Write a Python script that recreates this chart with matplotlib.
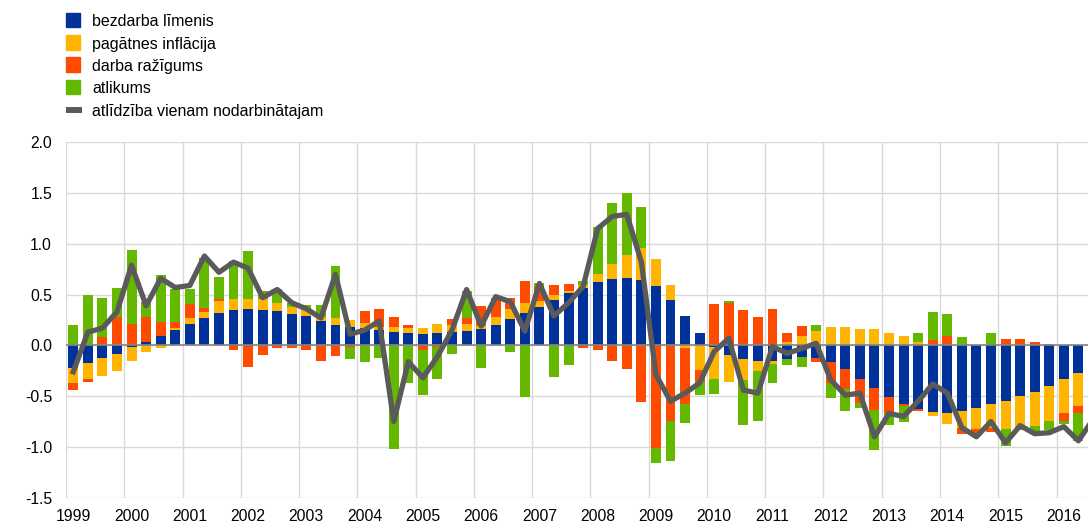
import numpy as np
import matplotlib
matplotlib.use("Agg")
import matplotlib.pyplot as plt
from matplotlib.patches import Rectangle
from matplotlib.lines import Line2D

plt.rcParams['font.family'] = ['Liberation Sans', 'DejaVu Sans']

start_year = 1999
year_labels = [str(y) for y in range(1999, 2017)]

series_names = ["bezdarba līmenis", "pagātnes inflācija", "darba ražīgums", "atlikums"]
line_name = "atlīdzība vienam nodarbinātajam"

# quarterly contributions, 1999Q1 .. 2016Q3
unemployment = [-0.22, -0.17, -0.12, -0.08, -0.02, 0.03, 0.09, 0.15,
                0.21, 0.27, 0.32, 0.35, 0.36, 0.35, 0.34, 0.31,
                0.29, 0.24, 0.20, 0.18, 0.17, 0.15, 0.13, 0.12,
                0.11, 0.12, 0.13, 0.14, 0.16, 0.20, 0.26, 0.32,
                0.38, 0.45, 0.52, 0.57, 0.62, 0.65, 0.66, 0.64,
                0.58, 0.45, 0.29, 0.12, -0.02, -0.09, -0.13, -0.15,
                -0.15, -0.13, -0.11, -0.12, -0.16, -0.23, -0.33, -0.42,
                -0.51, -0.58, -0.63, -0.66, -0.67, -0.65, -0.62, -0.58,
                -0.55, -0.50, -0.46, -0.40, -0.33, -0.27, -0.22]
inflation = [-0.15, -0.16, -0.18, -0.17, -0.13, -0.07, -0.03, 0.02,
             0.06, 0.06, 0.12, 0.11, 0.10, 0.11, 0.08, 0.07,
             0.06, 0.04, 0.07, 0.07, 0.05, 0.03, 0.05, 0.05,
             0.06, 0.09, 0.07, 0.07, 0.03, 0.08, 0.10, 0.10,
             0.06, 0.05, 0.02, 0.02, 0.08, 0.15, 0.23, 0.32,
             0.27, 0.14, -0.03, -0.24, -0.31, -0.27, -0.21, -0.10,
             -0.03, 0.03, 0.09, 0.14, 0.18, 0.18, 0.16, 0.16,
             0.12, 0.09, 0.03, -0.04, -0.10, -0.16, -0.20, -0.23,
             -0.27, -0.30, -0.33, -0.34, -0.34, -0.33, -0.34]
productivity = [-0.07, -0.03, 0.08, 0.28, 0.21, 0.25, 0.14, 0.06,
                0.14, 0.04, 0.02, -0.05, -0.21, -0.09, -0.03, -0.03,
                -0.05, -0.15, -0.10, -0.02, 0.12, 0.18, 0.10, 0.03,
                -0.05, -0.02, 0.06, 0.06, 0.20, 0.19, 0.11, 0.21,
                0.14, 0.09, 0.06, -0.03, -0.05, -0.15, -0.23, -0.56,
                -1.01, -0.74, -0.55, -0.12, 0.41, 0.42, 0.35, 0.28,
                0.36, 0.09, 0.10, -0.04, -0.21, -0.20, -0.24, -0.22,
                -0.16, -0.02, -0.02, 0.05, 0.09, -0.06, -0.05, -0.04,
                0.06, 0.06, 0.03, 0.015, -0.075, -0.07, -0.05]
residual = [0.20, 0.50, 0.39, 0.29, 0.73, 0.15, 0.46, 0.33,
            0.15, 0.49, 0.21, 0.37, 0.47, 0.08, 0.14, 0.04,
            0.05, 0.12, 0.51, -0.11, -0.16, -0.12, -1.02, -0.37,
            -0.44, -0.31, -0.08, 0.27, -0.22, 0.00, -0.07, -0.51,
            0.03, -0.31, -0.19, 0.04, 0.47, 0.60, 0.61, 0.40,
            -0.15, -0.40, -0.18, -0.13, -0.15, 0.02, -0.44, -0.49,
            -0.19, -0.06, -0.10, 0.06, -0.15, -0.22, -0.05, -0.39,
            -0.11, -0.15, 0.09, 0.28, 0.22, 0.08, 0.00, 0.12,
            -0.17, -0.03, -0.06, -0.09, -0.03, -0.27, -0.12]
compensation = [-0.26, 0.13, 0.17, 0.33, 0.79, 0.39, 0.66, 0.57,
                0.59, 0.88, 0.72, 0.82, 0.76, 0.47, 0.55, 0.42,
                0.36, 0.27, 0.70, 0.11, 0.15, 0.24, -0.75, -0.16,
                -0.32, -0.11, 0.15, 0.55, 0.19, 0.48, 0.43, 0.14,
                0.61, 0.29, 0.42, 0.58, 1.15, 1.27, 1.29, 0.82,
                -0.29, -0.55, -0.47, -0.37, -0.06, 0.07, -0.44, -0.47,
                -0.01, -0.08, -0.03, 0.02, -0.34, -0.49, -0.47, -0.90,
                -0.67, -0.70, -0.55, -0.38, -0.47, -0.81, -0.90, -0.75,
                -0.96, -0.79, -0.87, -0.86, -0.80, -0.94, -0.73]

colors = ["#003299", "#FFB400", "#FF4B00", "#65B800"]
line_color = "#5A5A5A"

W, H = 1088, 525
fig = plt.figure(figsize=(W / 100, H / 100), dpi=100)
ax = fig.add_axes([66 / W, 1 - 497.7 / H, 1 - 66 / W, (497.7 - 142.3) / H])

n = len(compensation)
x = start_year + (np.arange(n) + 0.5) / 4.0
data = [np.array(s, dtype=float) for s in (unemployment, inflation, productivity, residual)]
pos_bottom = np.zeros(n)
neg_bottom = np.zeros(n)
for vals, c in zip(data, colors):
    pos = np.where(vals > 0, vals, 0)
    neg = np.where(vals < 0, vals, 0)
    ax.bar(x, pos, width=0.17, bottom=pos_bottom, color=c, zorder=2, linewidth=0)
    ax.bar(x, neg, width=0.17, bottom=neg_bottom, color=c, zorder=2, linewidth=0)
    pos_bottom += pos
    neg_bottom += neg

ax.axhline(0, color="#858585", lw=1.2, zorder=3)
ax.plot(x, compensation, color=line_color, lw=3.8, zorder=4)

ax.set_xlim(1999, 2016.54)
ax.set_ylim(-1.5, 2.0)
yt = np.arange(-1.5, 2.01, 0.5)
ax.set_yticks(yt)
ax.set_yticklabels([f"{v:.1f}" for v in yt])
years = np.arange(1999, 2017)
ax.set_xticks(years + 0.125)
ax.set_xticklabels(year_labels)
ax.set_xticks(years, minor=True)
ax.tick_params(axis='both', which='both', length=0, labelsize=11.3, colors="#000000")
ax.tick_params(axis='y', pad=10)
ax.tick_params(axis='x', pad=8)
ax.grid(False)
ax.grid(axis='y', which='major', color="#D9D9D9", lw=1.0, zorder=0)
ax.grid(axis='x', which='minor', color="#D9D9D9", lw=1.0, zorder=0)
ax.set_axisbelow(True)
for s in ax.spines.values():
    s.set_visible(False)

# legend (manual, pixel placement)
rows = [20, 42.5, 64.5, 87, 110]
for i, (name, c) in enumerate(zip(series_names, colors)):
    cy = rows[i]
    fig.patches.append(Rectangle((66 / W, 1 - (cy + 7.3) / H), 14 / W, 14.6 / H,
                                 transform=fig.transFigure, color=c, figure=fig))
    fig.text(92.5 / W, 1 - (cy + 6) / H, name, fontsize=11.5, va='baseline', ha='left')
cy = rows[4]
fig.lines.append(Line2D([66 / W, 82 / W], [1 - cy / H, 1 - cy / H], transform=fig.transFigure,
                        color=line_color, lw=4.3, solid_capstyle='butt', figure=fig))
fig.text(92.5 / W, 1 - (cy + 6) / H, line_name, fontsize=11.5, va='baseline', ha='left')

fig.savefig("out.png", dpi=100)
